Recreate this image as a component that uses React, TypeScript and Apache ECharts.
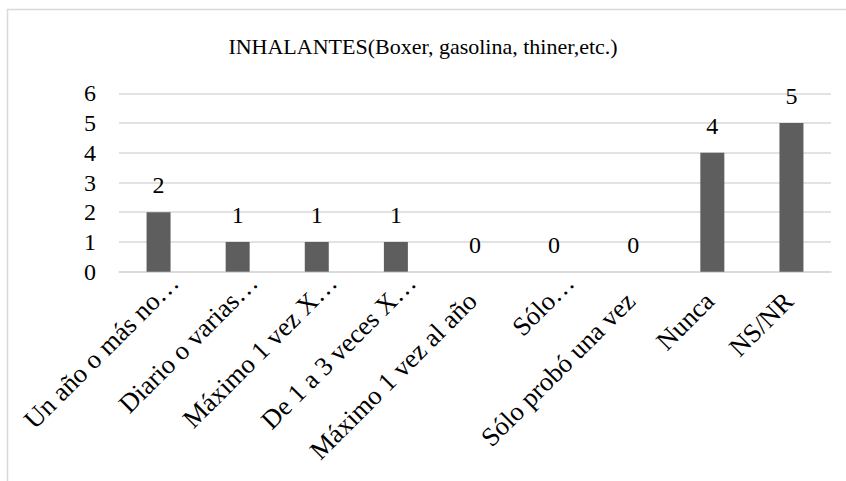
import React, { useEffect, useRef } from "react";
import * as echarts from "echarts";

const TITLE = "INHALANTES(Boxer, gasolina, thiner,etc.)";
const categories = [
  "Un año o más no…",
  "Diario o varias…",
  "Máximo 1 vez X…",
  "De 1 a 3 veces X…",
  "Máximo 1 vez al año",
  "Sólo…",
  "Sólo probó una vez",
  "Nunca",
  "NS/NR",
];
const values = [2, 1, 1, 1, 0, 0, 0, 4, 5];
const yTicks = [0, 1, 2, 3, 4, 5, 6];

const FONT = "'Liberation Serif', 'Times New Roman', serif";

export default function App() {
  const ref = useRef<HTMLDivElement>(null);
  useEffect(() => {
    if (!ref.current) return;
    const chart = echarts.init(ref.current, null, { renderer: "svg" });
    chart.setOption({
      animation: false,
      backgroundColor: "#ffffff",
      title: {
        text: TITLE,
        left: "center",
        top: 30,
        textStyle: { fontFamily: FONT, fontSize: 22, fontWeight: "normal", color: "#000" },
      },
      graphic: [
        {
          type: "rect",
          shape: { x: 7.5, y: 9.5, width: 900, height: 600 },
          style: { fill: "none", stroke: "#d9d9d9", lineWidth: 1.5 },
          silent: true,
        },
      ],
      grid: { left: 119, right: 15, top: 93.3, bottom: 209.3 },
      xAxis: {
        type: "category",
        data: categories.map((c) => ({
          value: c,
          textStyle: { padding: c.endsWith("…") ? [0, -22, 10, 0] : [0, 4, 0, 0] },
        })),
        axisLine: { lineStyle: { color: "#d9d9d9", width: 1.5 } },
        axisTick: { show: false },
        axisLabel: {
          interval: 0,
          rotate: 45,
          margin: 22,
          fontFamily: FONT,
          fontSize: 26.5,
          color: "#000",
        },
      },
      yAxis: {
        type: "value",
        min: yTicks[0],
        max: yTicks[yTicks.length - 1],
        interval: 1,
        axisLine: { show: false },
        axisTick: { show: false },
        splitLine: { lineStyle: { color: "#d9d9d9", width: 1.5 } },
        axisLabel: { margin: 23, fontFamily: FONT, fontSize: 24, color: "#000" },
      },
      series: [
        {
          type: "bar",
          data: values,
          barWidth: 24,
          itemStyle: { color: "#5e5e5e" },
          label: {
            show: true,
            position: "top",
            distance: 15,
            fontFamily: FONT,
            fontSize: 24,
            color: "#000",
          },
        },
      ],
    });
    return () => chart.dispose();
  }, []);
  return (
    <div
      ref={ref}
      style={{ position: "fixed", left: 0, top: 0, width: 846, height: 481 }}
    />
  );
}
